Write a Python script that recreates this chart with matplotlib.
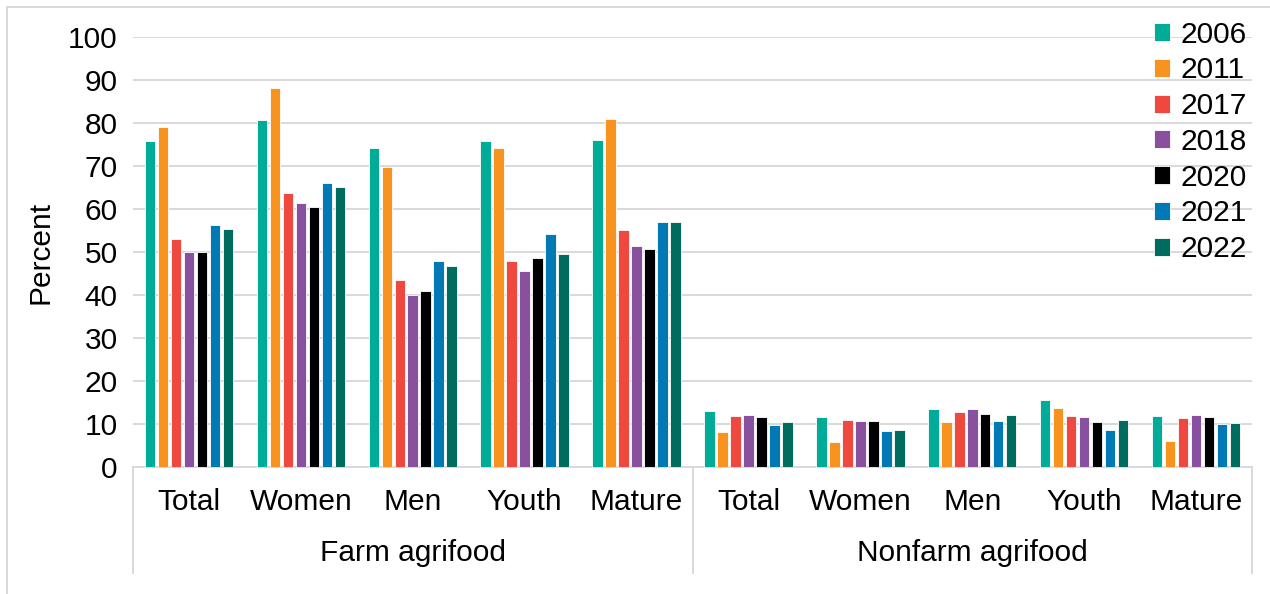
import matplotlib
matplotlib.use("Agg")
import matplotlib.pyplot as plt
from matplotlib.lines import Line2D
import numpy as np

plt.rcParams['font.family'] = ['Liberation Sans', 'DejaVu Sans']

# Data
sectors = ["Farm agrifood", "Nonfarm agrifood"]
groups = ["Total", "Women", "Men", "Youth", "Mature"]
years = ["2006", "2011", "2017", "2018", "2020", "2021", "2022"]
colors = ["#00ab98", "#f7931e", "#ef483e", "#8a50a0", "#000000", "#0079b4", "#006b5f"]

# rows: years; columns: Farm (Total, Women, Men, Youth, Mature), Nonfarm (same order)
v2006 = [75.9, 80.8, 74.2, 75.7, 76.0, 13.0, 11.6, 13.6, 15.5, 11.9]
v2011 = [79.1, 88.1, 69.8, 74.1, 80.9, 8.1, 5.8, 10.5, 13.8, 6.1]
v2017 = [53.0, 63.7, 43.4, 47.8, 55.2, 11.9, 10.9, 12.9, 11.8, 11.5]
v2018 = [50.0, 61.5, 39.9, 45.5, 51.5, 12.0, 10.6, 13.4, 11.6, 12.2]
v2020 = [50.0, 60.4, 40.9, 48.6, 50.8, 11.6, 10.6, 12.4, 10.5, 11.6]
v2021 = [56.2, 66.0, 47.9, 54.2, 56.9, 9.7, 8.3, 10.6, 8.6, 10.0]
v2022 = [55.3, 65.1, 46.7, 49.6, 56.9, 10.4, 8.6, 12.2, 10.9, 10.3]
series = [v2006, v2011, v2017, v2018, v2020, v2021, v2022]

FS = 21.5
W, H = 1270, 594
fig = plt.figure(figsize=(W / 100, H / 100), dpi=100)
ax_left, ax_right, ax_top, ax_bot = 133, 1252, 37, 467
ax = fig.add_axes([ax_left / W, 1 - ax_bot / H, (ax_right - ax_left) / W, (ax_bot - ax_top) / H])

n_cat = len(sectors) * len(groups)
x = np.arange(n_cat)
pitch = 0.116
width = 0.094
for i, (yr, vals, c) in enumerate(zip(years, series, colors)):
    offs = (i - (len(years) - 1) / 2) * pitch
    ax.bar(x + offs, vals, width=width, color=c, edgecolor="white", linewidth=0.6,
           label=yr, zorder=3)

ax.set_xlim(-0.5, n_cat - 0.5)
ax.set_ylim(0, 100)
ax.set_yticks(np.arange(0, 101, 10))
ax.yaxis.grid(True, color="#d9d9d9", linewidth=1.4, zorder=0)
ax.set_axisbelow(True)
for s in ["top", "right", "left"]:
    ax.spines[s].set_visible(False)
ax.spines["bottom"].set_color("#d9d9d9")
ax.spines["bottom"].set_linewidth(1.4)
ax.tick_params(axis="y", length=0, labelsize=FS, pad=11)
ax.tick_params(axis="x", length=0, labelbottom=False)
ax.set_ylabel("Percent", fontsize=FS, labelpad=10)

# Two-level category axis
def fy(py):
    return 1 - py / H

def fx(px):
    return px / W

for k in range(n_cat):
    xd = ax.transData.transform((k, 0))[0]
    fig.text(xd / W, fy(502), groups[k % len(groups)], ha="center", va="center", fontsize=FS)
for j, name in enumerate(sectors):
    c = (j * len(groups) + (len(groups) - 1) / 2)
    xd = ax.transData.transform((c, 0))[0]
    fig.text(xd / W, fy(553), name, ha="center", va="center", fontsize=FS)
for b in range(len(sectors) + 1):
    xd = ax.transData.transform((b * len(groups) - 0.5, 0))[0]
    fig.add_artist(Line2D([xd / W, xd / W], [fy(467), fy(573)], color="#d9d9d9", linewidth=1.4))

# Outer frame edges
fig.add_artist(Line2D([fx(7), 1], [fy(7), fy(7)], color="#d9d9d9", linewidth=1.4))
fig.add_artist(Line2D([fx(7), fx(7)], [fy(7), 0], color="#d9d9d9", linewidth=1.4))

leg = ax.legend(loc="upper right", bbox_to_anchor=(0.998, 1.045), frameon=False, fontsize=FS,
                handlelength=0.55, handleheight=0.55, handletextpad=0.35, labelspacing=0.26,
                borderaxespad=0.0, borderpad=0.1)

fig.savefig("out.png", dpi=100)
